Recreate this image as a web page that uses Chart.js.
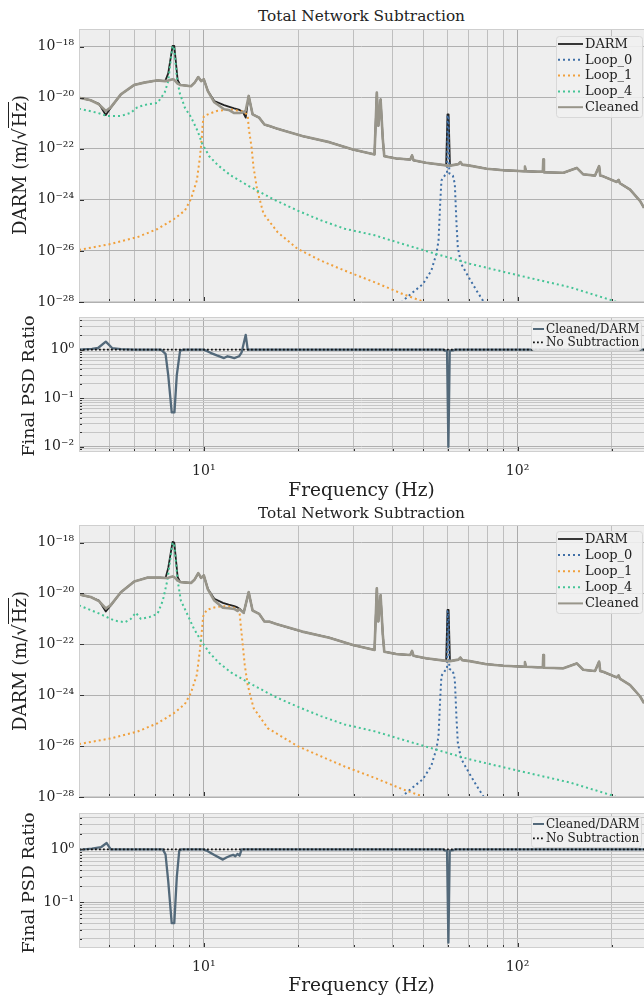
<!DOCTYPE html>
<html>
<head>
<meta charset="utf-8">
<title>Total Network Subtraction</title>
<script src="https://cdn.jsdelivr.net/npm/chart.js@4.4.1/dist/chart.umd.min.js"></script>
<style>
  body { margin: 0; background: #fff; }
  #page { position: relative; width: 644px; height: 996px; overflow: hidden; font-family: 'DejaVu Serif', serif; color: #222; }
  canvas { position: absolute; left: 0; }
  .title { position: absolute; left: 79px; width: 565px; text-align: center; font-size: 15.3px; line-height: 18px; }
  .xlabel { position: absolute; left: 79px; width: 565px; text-align: center; font-size: 18.5px; line-height: 22px; }
  .ylabel { position: absolute; width: 220px; height: 24px; line-height: 24px; text-align: center; font-size: 18px; transform: rotate(-90deg); white-space: nowrap; }
  .ylabel.small { font-size: 17.5px; }
  .root { border-top: 1.4px solid #222; padding-left: 1px; }
</style>
</head>
<body>
<div id="page">
  <div class="title" style="top:7px">Total Network Subtraction</div>
  <canvas id="mainA" width="644" height="292" style="top:20px"></canvas>
  <canvas id="ratioA" width="644" height="172" style="top:308px"></canvas>
  <div class="ylabel" style="left:-90px; top:153px">DARM (m/√<span class="root">Hz</span>)</div>
  <div class="ylabel small" style="left:-82px; top:374px">Final PSD Ratio</div>
  <div class="xlabel" style="top:479px">Frequency (Hz)</div>

  <div class="title" style="top:504px">Total Network Subtraction</div>
  <canvas id="mainB" width="644" height="292" style="top:516px"></canvas>
  <canvas id="ratioB" width="644" height="172" style="top:804px"></canvas>
  <div class="ylabel" style="left:-90px; top:649px">DARM (m/√<span class="root">Hz</span>)</div>
  <div class="ylabel small" style="left:-82px; top:871px">Final PSD Ratio</div>
  <div class="xlabel" style="top:974px">Frequency (Hz)</div>
</div>
<script>
// ASD values are stored as log10 exponents (m/sqrt(Hz))

// run A, below 16 Hz
var lowFreqA = [4.0, 4.36, 4.63, 4.87, 5.05, 5.44, 6.0, 6.45, 7.12, 7.53, 7.7, 7.95, 8.05, 8.25, 8.4, 9.1, 9.35, 9.6, 9.8, 10.0, 10.3, 10.8, 11.6, 12.0, 12.5, 13.0, 13.3, 13.6, 13.9, 14.3, 15.0, 15.6];
var lowDarmA = [-20.0, -20.1, -20.24, -20.68, -20.39, -19.87, -19.5, -19.41, -19.32, -19.35, -19.05, -17.97, -17.97, -19.3, -19.5, -19.55, -19.41, -19.19, -19.35, -19.28, -19.74, -20.13, -20.29, -20.35, -20.42, -20.48, -20.55, -20.78, -19.93, -20.65, -20.78, -21.05];
var lowCleanA = [-20.0, -20.1, -20.26, -20.52, -20.38, -19.87, -19.5, -19.41, -19.32, -19.35, -19.33, -19.28, -19.3, -19.45, -19.5, -19.55, -19.41, -19.19, -19.35, -19.28, -19.74, -20.18, -20.45, -20.48, -20.6, -20.6, -20.58, -20.5, -19.93, -20.65, -20.78, -21.05];

// run B, below 16 Hz
var lowFreqB = [4.0, 4.36, 4.63, 4.87, 5.05, 5.44, 6.0, 6.6, 7.3, 7.55, 7.7, 7.95, 8.05, 8.25, 8.4, 9.1, 9.35, 9.6, 9.8, 10.0, 10.3, 10.8, 11.5, 12.0, 12.5, 12.8, 13.0, 13.4, 13.9, 14.3, 15.0, 15.6];
var lowDarmB = [-20.04, -20.14, -20.28, -20.71, -20.47, -19.95, -19.53, -19.38, -19.38, -19.39, -19.0, -17.97, -18.0, -19.35, -19.55, -19.59, -19.45, -19.2, -19.39, -19.29, -19.82, -20.21, -20.37, -20.44, -20.5, -20.55, -20.6, -20.76, -19.95, -20.67, -20.8, -21.1];
var lowCleanB = [-20.04, -20.14, -20.3, -20.59, -20.46, -19.95, -19.53, -19.38, -19.38, -19.39, -19.38, -19.33, -19.36, -19.49, -19.55, -19.59, -19.45, -19.2, -19.39, -19.29, -19.84, -20.28, -20.56, -20.58, -20.61, -20.69, -20.62, -20.76, -19.95, -20.67, -20.8, -21.1];

// both runs, 16 Hz and up
var tailFreq = [16.2, 17.2, 17.8, 20.6, 25.1, 29.9, 35.0, 35.6, 36.0, 36.6, 37.2, 37.6, 41.0, 45.5, 46.1, 46.6, 51.1, 59.2, 59.8, 60.3, 60.9, 64.8, 65.7, 66.6, 70.4, 79.6, 90.0, 105.0, 105.6, 106.3, 116.0, 120.4, 120.8, 121.4, 140.0, 154.5, 162.0, 176.6, 182.0, 183.5, 187.6, 207.0, 210.0, 212.0, 228.5, 246.0, 253.0];
var tailDarm = [-21.11, -21.22, -21.27, -21.5, -21.74, -22.03, -22.22, -19.8, -21.1, -20.07, -21.63, -22.29, -22.38, -22.42, -22.26, -22.45, -22.55, -22.65, -20.65, -20.65, -22.66, -22.6, -22.52, -22.62, -22.66, -22.78, -22.84, -22.88, -22.7, -22.88, -22.9, -22.9, -22.42, -22.92, -22.94, -22.75, -23.0, -23.05, -22.68, -23.05, -23.08, -23.3, -23.22, -23.35, -23.6, -24.05, -24.31];
var tailClean = [-21.11, -21.22, -21.27, -21.5, -21.74, -22.03, -22.22, -19.8, -21.1, -20.07, -21.63, -22.29, -22.38, -22.42, -22.26, -22.45, -22.55, -22.65, -22.66, -22.66, -22.66, -22.6, -22.52, -22.62, -22.66, -22.78, -22.84, -22.88, -22.7, -22.88, -22.9, -22.9, -22.42, -22.92, -22.94, -22.75, -23.0, -23.05, -22.68, -23.05, -23.08, -23.3, -23.22, -23.35, -23.6, -24.05, -24.31];

// Loop_0 (60 Hz line and its broad hump)
var loop0Freq = [42.0, 43.1, 46.4, 49.9, 53.1, 55.1, 56.0, 56.6, 57.2, 58.6, 59.6, 59.85, 60.25, 60.6, 62.2, 63.1, 63.9, 64.5, 66.1, 70.4, 74.0, 77.6, 79.0];
var loop0Exp = [-28.2, -27.95, -27.62, -27.3, -26.77, -26.12, -25.6, -24.29, -23.24, -23.05, -22.97, -20.7, -20.7, -22.96, -23.05, -23.37, -24.94, -25.86, -26.5, -27.1, -27.55, -27.95, -28.2];

// Loop_1
var loop1FreqA = [4.0, 5.04, 6.14, 7.12, 8.04, 8.7, 9.1, 9.5, 9.7, 9.85, 9.92, 10.0, 10.4, 11.0, 12.2, 13.4, 13.8, 13.9, 14.2, 14.4, 14.8, 15.5, 17.2, 19.9, 23.6, 28.1, 35.1, 43.1, 49.9, 53.0];
var loop1ExpA = [-25.96, -25.73, -25.46, -25.14, -24.75, -24.42, -23.96, -23.24, -22.4, -21.6, -21.0, -20.72, -20.63, -20.52, -20.46, -20.55, -20.68, -21.18, -21.96, -22.72, -23.63, -24.55, -25.27, -25.92, -26.38, -26.77, -27.23, -27.69, -27.98, -28.2];
var loop1FreqB = [4.0, 5.04, 6.14, 7.12, 8.0, 8.7, 9.1, 9.5, 9.7, 9.85, 9.95, 10.2, 10.8, 11.5, 12.2, 12.8, 13.0, 13.1, 13.3, 13.5, 13.8, 14.4, 16.0, 19.9, 23.6, 28.1, 35.1, 43.1, 49.9, 53.0];
var loop1ExpB = [-25.92, -25.7, -25.43, -25.1, -24.72, -24.35, -23.9, -23.2, -22.3, -21.5, -20.9, -20.65, -20.55, -20.5, -20.52, -20.6, -20.75, -21.2, -22.0, -22.8, -23.6, -24.5, -25.3, -26.0, -26.4, -26.8, -27.25, -27.7, -27.98, -28.2];

// Loop_4
var loop4FreqA = [4.0, 4.58, 4.93, 5.44, 5.85, 6.14, 6.6, 7.12, 7.5, 7.7, 7.85, 7.95, 8.05, 8.2, 8.37, 8.7, 9.1, 9.55, 9.88, 10.4, 11.1, 12.2, 14.1, 16.8, 19.9, 23.6, 28.1, 35.1, 43.1, 55.1, 70.4, 101.6, 146.9, 201.8, 215.0];
var loop4ExpA = [-20.43, -20.59, -20.72, -20.72, -20.59, -20.37, -20.26, -20.2, -19.8, -19.35, -18.5, -17.97, -18.1, -19.2, -19.8, -20.39, -20.76, -21.3, -21.8, -22.29, -22.65, -23.05, -23.5, -24.0, -24.42, -24.8, -25.13, -25.39, -25.73, -26.12, -26.5, -26.97, -27.42, -27.95, -28.1];
var loop4FreqB = [4.0, 4.58, 5.2, 5.6, 5.85, 6.07, 6.3, 6.7, 7.12, 7.4, 7.65, 7.85, 7.95, 8.05, 8.25, 8.45, 8.9, 9.3, 9.8, 10.4, 11.2, 12.2, 14.1, 16.8, 19.9, 23.6, 28.1, 35.1, 43.1, 55.1, 70.4, 101.6, 146.9, 201.8, 215.0];
var loop4ExpB = [-20.47, -20.76, -21.07, -21.13, -21.0, -20.76, -21.0, -20.93, -20.8, -20.28, -19.49, -18.5, -18.0, -18.1, -19.49, -20.28, -20.87, -21.39, -21.86, -22.32, -22.74, -23.1, -23.55, -24.05, -24.45, -24.82, -25.15, -25.42, -25.75, -26.14, -26.52, -26.98, -27.43, -27.95, -28.1];

// Cleaned/DARM ratio
var ratioFreqA = [4.0, 4.4, 4.6, 4.87, 5.1, 5.44, 6.0, 7.3, 7.55, 7.7, 7.9, 8.06, 8.2, 8.4, 8.6, 10.0, 10.5, 11.0, 11.6, 11.9, 12.2, 12.5, 12.95, 13.2, 13.6, 13.8, 58.0, 58.5, 59.6, 60.2, 60.8, 62.5, 63.0, 253.0];
var ratioA = [1.0, 1.04, 1.08, 1.46, 1.08, 1.02, 1.0, 1.0, 0.82, 0.3, 0.051, 0.051, 0.3, 0.95, 1.0, 1.0, 0.86, 0.76, 0.67, 0.73, 0.7, 0.67, 0.73, 0.88, 2.02, 1.0, 1.0, 0.96, 0.95, 0.01, 0.95, 0.97, 1.0, 1.0];
var ratioFreqB = [4.0, 4.4, 4.7, 4.9, 5.05, 7.4, 7.55, 7.7, 7.9, 8.05, 8.2, 8.35, 8.5, 10.0, 10.2, 10.8, 11.5, 11.8, 12.1, 12.4, 12.6, 12.8, 13.0, 13.2, 58.0, 58.5, 59.6, 60.2, 60.8, 62.5, 63.0, 253.0];
var ratioB = [0.98, 1.03, 1.1, 1.32, 1.0, 1.0, 0.8, 0.25, 0.04, 0.04, 0.3, 0.95, 1.0, 1.0, 0.95, 0.78, 0.64, 0.7, 0.75, 0.79, 0.74, 0.82, 0.76, 1.0, 1.0, 0.96, 0.95, 0.017, 0.95, 0.97, 1.0, 1.0];
var noSubFreq = [4.0, 253.0];
var noSubRatio = [1.0, 1.0];

// axis limits and tick positions
var freqMin = 4, freqMax = 253;
var freqTicks = [5, 6, 7, 8, 9, 10, 20, 30, 40, 50, 60, 70, 80, 90, 100, 200];
var asdMin = 1e-28, asdMax = 4.9e-18;
var asdTicks = [1e-28, 1e-26, 1e-24, 1e-22, 1e-20, 1e-18];
var ratioRangeA = [0.0078, 4.7];
var ratioRangeB = [0.0135, 4.9];

Chart.defaults.font.family = "'DejaVu Serif', serif";
Chart.defaults.color = '#222';

var sup = {'-': '\u207B', '0': '\u2070', '1': '\u00B9', '2': '\u00B2', '3': '\u00B3', '4': '\u2074', '5': '\u2075', '6': '\u2076', '7': '\u2077', '8': '\u2078', '9': '\u2079'};

function isDecade(v) {
    var e = Math.log10(v);
    return Math.abs(e - Math.round(e)) < 1e-6;
}

function powLabel(v) {
    if (!isDecade(v)) return '';
    return '10' + String(Math.round(Math.log10(v))).split('').map(function (c) { return sup[c]; }).join('');
}

function asd(freqs, exps) {
    return freqs.map(function (f, i) { return {x: f, y: Math.pow(10, exps[i])}; });
}

function pairs(freqs, vals) {
    return freqs.map(function (f, i) { return {x: f, y: vals[i]}; });
}

function series(label, data, color, width, dash, order) {
    return {
        label: label, data: data, borderColor: color, borderWidth: width,
        borderDash: dash || [], borderCapStyle: 'butt', borderJoinStyle: 'round',
        pointRadius: 0, tension: 0, order: order, clip: 0, fill: false
    };
}

// plot background, inward tick marks and frame
var panelFrame = {
    id: 'panelFrame',
    beforeDraw: function (chart) {
        var a = chart.chartArea, c = chart.ctx;
        c.save();
        c.fillStyle = '#eeeeee';
        c.fillRect(a.left, a.top, a.right - a.left, a.bottom - a.top);
        c.restore();
    },
    afterDatasetsDraw: function (chart) {
        var a = chart.chartArea, c = chart.ctx;
        c.save();
        c.strokeStyle = '#333';
        c.lineWidth = 1;
        chart.scales.x.ticks.forEach(function (t) {
            var px = Math.round(chart.scales.x.getPixelForValue(t.value)) + 0.5;
            var len = isDecade(t.value) ? 5 : 3;
            c.beginPath(); c.moveTo(px, a.bottom); c.lineTo(px, a.bottom - len); c.stroke();
        });
        chart.scales.y.ticks.forEach(function (t) {
            var py = Math.round(chart.scales.y.getPixelForValue(t.value)) + 0.5;
            var len = isDecade(t.value) ? 5 : 3;
            c.beginPath(); c.moveTo(a.left, py); c.lineTo(a.left + len, py); c.stroke();
        });
        c.strokeStyle = '#cfcfcf';
        c.strokeRect(a.left + 0.5, a.top + 0.5, a.right - a.left, a.bottom - a.top - 1);
        c.restore();
    }
};

// legend box inside the upper right corner of the plot
var boxLegend = {
    id: 'boxLegend',
    afterDraw: function (chart, args, o) {
        if (!o || !o.width) return;
        var a = chart.chartArea, c = chart.ctx;
        var left = a.right - o.inset - o.width, top = a.top + o.top;
        c.save();
        c.beginPath();
        c.roundRect(left + 0.5, top + 0.5, o.width, o.height, 3);
        c.fillStyle = 'rgba(240,240,240,0.88)';
        c.fill();
        c.strokeStyle = '#d8d8d8';
        c.lineWidth = 1;
        c.stroke();
        c.font = o.size + "px 'DejaVu Serif', serif";
        c.textBaseline = 'middle';
        chart.data.datasets.forEach(function (ds, i) {
            var y = top + o.first + i * o.step;
            c.strokeStyle = ds.borderColor;
            c.lineWidth = Math.min(ds.borderWidth, 2);
            c.setLineDash(ds.borderDash);
            c.beginPath(); c.moveTo(left + 2, y); c.lineTo(left + 2 + o.handle, y); c.stroke();
            c.setLineDash([]);
            c.fillStyle = '#222';
            c.fillText(ds.label, left + 4 + o.handle, y + 0.5);
        });
        c.restore();
    }
};

function makePanel(id, datasets, yMin, yMax, yTicks, padTop, xHeight, showX, legend) {
    return new Chart(document.getElementById(id), {
        type: 'line',
        data: {datasets: datasets},
        plugins: [panelFrame, boxLegend],
        options: {
            responsive: false,
            animation: false,
            events: [],
            layout: {padding: {top: padTop, right: 0, bottom: 0, left: 0}},
            plugins: {legend: {display: false}, tooltip: {enabled: false}, boxLegend: legend},
            scales: {
                x: {
                    type: 'logarithmic', min: freqMin, max: freqMax,
                    afterBuildTicks: function (s) { s.ticks = freqTicks.map(function (v) { return {value: v}; }); },
                    afterFit: function (s) { s.height = xHeight; s.paddingLeft = 0; s.paddingRight = 0; },
                    border: {display: false},
                    grid: {
                        drawTicks: false, lineWidth: 1,
                        color: function (ctx) { return isDecade(ctx.tick.value) ? '#ababab' : '#bfbfbf'; }
                    },
                    ticks: {display: showX, autoSkip: false, maxRotation: 0, padding: 11, font: {size: 14}, callback: powLabel}
                },
                y: {
                    type: 'logarithmic', min: yMin, max: yMax,
                    afterBuildTicks: function (s) { s.ticks = yTicks.map(function (v) { return {value: v}; }); },
                    afterFit: function (s) { s.width = 79; s.paddingTop = 0; s.paddingBottom = 0; },
                    border: {display: false},
                    grid: {
                        drawTicks: false, lineWidth: 1,
                        color: function (ctx) { return isDecade(ctx.tick.value) ? '#b0b0b0' : '#c6c6c6'; }
                    },
                    ticks: {autoSkip: false, padding: 5, font: {size: 14}, callback: powLabel}
                }
            }
        }
    });
}

// every k*10^n tick inside a range, for the ratio axes
function ratioTicks(range) {
    var out = [];
    for (var d = Math.floor(Math.log10(range[0])); d <= Math.ceil(Math.log10(range[1])); d++) {
        for (var k = 1; k < 10; k++) {
            var v = k * Math.pow(10, d);
            if (v >= range[0] && v <= range[1]) out.push(v);
        }
    }
    return out;
}

var dots = [2, 3];
var colDarm = '#222222', colLoop0 = '#3f6fa6', colLoop1 = '#f0a03c', colLoop4 = '#45c496', colClean = '#98958a', colRatio = '#53697a';

function mainSets(lowFreq, lowDarm, lowClean, l1f, l1e, l4f, l4e) {
    return [
        series('DARM', asd(lowFreq.concat(tailFreq), lowDarm.concat(tailDarm)), colDarm, 1.8, null, 5),
        series('Loop_0', asd(loop0Freq, loop0Exp), colLoop0, 2, dots, 4),
        series('Loop_1', asd(l1f, l1e), colLoop1, 2, dots, 3),
        series('Loop_4', asd(l4f, l4e), colLoop4, 2, dots, 2),
        series('Cleaned', asd(lowFreq.concat(tailFreq), lowClean.concat(tailClean)), colClean, 2.6, null, 1)
    ];
}

function ratioSets(freqs, vals) {
    return [
        series('Cleaned/DARM', pairs(freqs, vals), colRatio, 2.3, null, 2),
        series('No Subtraction', pairs(noSubFreq, noSubRatio), '#111111', 1.8, [1.8, 2.2], 1)
    ];
}

makePanel('mainA', mainSets(lowFreqA, lowDarmA, lowCleanA, loop1FreqA, loop1ExpA, loop4FreqA, loop4ExpA),
    asdMin, asdMax, asdTicks, 9, 10, false,
    {width: 86, height: 81, inset: 2, top: 7, first: 8, step: 15.8, handle: 25, size: 13});
makePanel('ratioA', ratioSets(ratioFreqA, ratioA), ratioRangeA[0], ratioRangeA[1], ratioTicks(ratioRangeA), 9, 28, true,
    {width: 110, height: 29, inset: 3, top: 4, first: 8, step: 13.4, handle: 11, size: 12});
makePanel('mainB', mainSets(lowFreqB, lowDarmB, lowCleanB, loop1FreqB, loop1ExpB, loop4FreqB, loop4ExpB),
    asdMin, asdMax, asdTicks, 9, 11, false,
    {width: 86, height: 82, inset: 2, top: 6, first: 8, step: 16.1, handle: 25, size: 13});
makePanel('ratioB', ratioSets(ratioFreqB, ratioB), ratioRangeB[0], ratioRangeB[1], ratioTicks(ratioRangeB), 9, 28, true,
    {width: 110, height: 31, inset: 3, top: 3, first: 8, step: 14.4, handle: 11, size: 12});
</script>
</body>
</html>
